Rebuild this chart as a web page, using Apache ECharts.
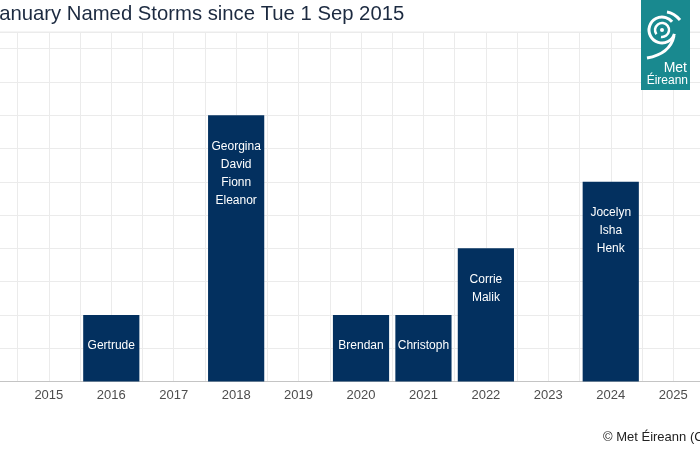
<!DOCTYPE html>
<html>
<head>
<meta charset="utf-8">
<script src="https://cdn.jsdelivr.net/npm/echarts@6/dist/echarts.min.js"></script>
<style>html,body{margin:0;padding:0;background:#fff;overflow:hidden;width:700px;height:450px;position:relative}#c{position:absolute;left:-45px;top:0;width:750px;height:450px}</style>
</head>
<body>
<div id="c"></div>
<script>
var years = ['2015','2016','2017','2018','2019','2020','2021','2022','2023','2024','2025'];
var counts = [0,1,0,4,0,1,1,2,0,3,0];
var storms = [[],['Gertrude'],[],['Georgina','David','Fionn','Eleanor'],[],['Brendan'],['Christoph'],['Corrie','Malik'],[],['Jocelyn','Isha','Henk'],[]];
var titleText = 'January Named Storms since Tue 1 Sep 2015';
var captionText = '© Met Éireann (CC BY 4.0)';

var cats = [''].concat(years);
var barData = [null].concat(counts.map(function(v,i){
  return {value: v, label: {formatter: storms[i].join('\n')}};
}));

var OX = 45; // page-to-chart x offset
var chart = echarts.init(document.getElementById('c'));
var grid = '#ebebeb';
var Z = 100;
chart.setOption({
  animation: false,
  textStyle: {fontFamily: 'Liberation Sans, Arial, sans-serif'},
  title: {
    text: titleText, left: OX - 11, top: 4, padding: 0,
    textStyle: {fontSize: 20.3, fontWeight: 'normal', color: '#1c2a40', fontFamily: 'Liberation Sans, Arial, sans-serif'}
  },
  grid: {left: 0.2, right: 0.6, top: 32, bottom: 68.5, show: true, borderColor: grid, borderWidth: 1},
  xAxis: [{
    type: 'category', data: cats,
    axisLine: {lineStyle: {color: '#c4c4c4'}},
    axisTick: {alignWithLabel: true, length: 3, lineStyle: {color: '#c4c4c4'}},
    axisLabel: {color: '#4d4d4d', fontSize: 13, margin: 7},
    splitLine: {show: false}
  }, {
    type: 'value', min: -0.5, max: 11.5, interval: 0.5, position: 'bottom',
    axisLine: {show: false}, axisTick: {show: false}, axisLabel: {show: false},
    splitLine: {show: true, lineStyle: {color: grid, width: 1}}
  }],
  yAxis: {
    type: 'value', min: 0, max: 5.25, interval: 0.5,
    axisLabel: {show: false}, axisLine: {show: false}, axisTick: {show: false},
    splitLine: {lineStyle: {color: grid, width: 1}}
  },
  series: [{
    type: 'bar', xAxisIndex: 0, data: barData, barCategoryGap: '10%',
    itemStyle: {color: '#03305f'},
    label: {show: true, position: 'insideTop', distance: 22, color: '#ffffff', fontSize: 12, lineHeight: 18, align: 'center'}
  }],
  graphic: {elements: [
    {type: 'rect', z: Z, shape: {x: OX + 641, y: 0, width: 49, height: 90}, style: {fill: '#19898f'}},
    {type: 'arc', z: Z + 1, shape: {cx: OX + 662, cy: 30, r: 13, startAngle: 0.3, endAngle: 5.6}, style: {stroke: '#fff', lineWidth: 3, fill: null}},
    {type: 'arc', z: Z + 1, shape: {cx: OX + 662, cy: 30, r: 7, startAngle: 2.5, endAngle: 8.0}, style: {stroke: '#fff', lineWidth: 2.5, fill: null}},
    {type: 'circle', z: Z + 1, shape: {cx: OX + 662, cy: 30, r: 2}, style: {fill: '#fff'}},
    {type: 'bezierCurve', z: Z + 1, shape: {x1: OX + 667, y1: 12, x2: OX + 680, y2: 20, cpx1: OX + 674, cpy1: 13}, style: {stroke: '#fff', lineWidth: 3, fill: null}},
    {type: 'bezierCurve', z: Z + 1, shape: {x1: OX + 674, y1: 36, x2: OX + 647, y2: 58, cpx1: OX + 670, cpy1: 54}, style: {stroke: '#fff', lineWidth: 3, fill: null}},
    {type: 'text', z: Z + 1, x: OX + 687, y: 68, style: {text: 'Met', fill: '#fff', font: '14px Liberation Sans, Arial, sans-serif', textAlign: 'right', textVerticalAlign: 'middle'}},
    {type: 'text', z: Z + 1, x: OX + 688, y: 81, style: {text: 'Éireann', fill: '#fff', font: '12px Liberation Sans, Arial, sans-serif', textAlign: 'right', textVerticalAlign: 'middle'}},
    {type: 'text', z: Z, x: OX + 603, y: 437, style: {text: captionText, fill: '#222', font: '13px Liberation Sans, Arial, sans-serif', textAlign: 'left', textVerticalAlign: 'middle'}}
  ]}
});
</script>
</body>
</html>
